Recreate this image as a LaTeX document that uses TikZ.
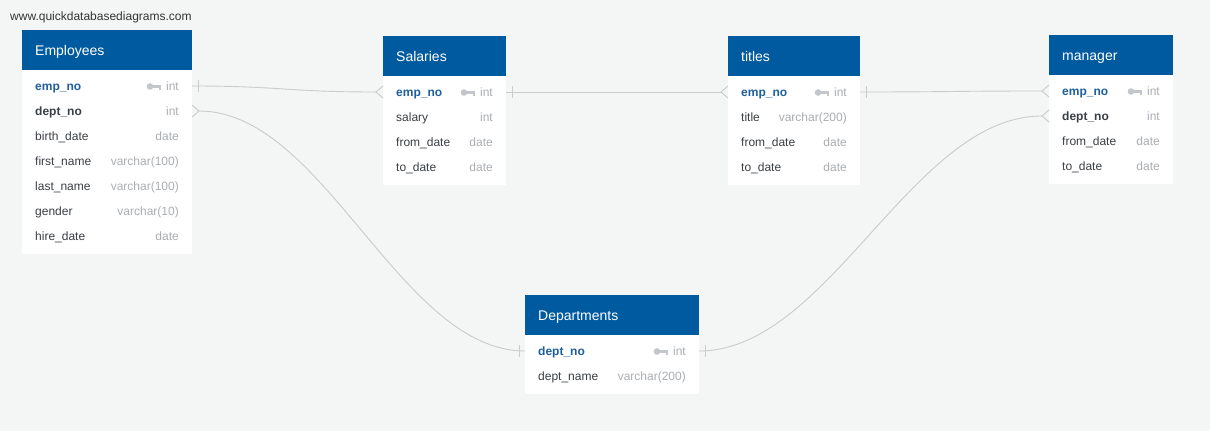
\documentclass[tikz,border=0pt]{standalone}
\usepackage{fontspec}
\setmainfont{Liberation Sans}

\definecolor{bgcol}{HTML}{F4F6F5}
\definecolor{headcol}{HTML}{005A9F}
\definecolor{keytext}{HTML}{1E5F9C}
\definecolor{nametext}{HTML}{3A3F44}
\definecolor{typetext}{HTML}{AAAEB2}
\definecolor{keycol}{HTML}{C3C7CB}
\definecolor{relcol}{HTML}{C9CBCC}

\begin{document}
\begin{tikzpicture}[
  x = 1pt, y = -1pt,
  tblhead/.style = {
    anchor = north west,
    fill = headcol,
    minimum height = 40pt,
    inner sep = 0pt,
  },
  tblbody/.style = {
    anchor = north west,
    fill = white,
    inner sep = 0pt,
  },
  tbltitle/.style = {
    anchor = base west,
    inner sep = 0pt,
    text = white,
    font = \fontsize{14pt}{16pt}\selectfont,
  },
  fname/.style = {
    anchor = base west,
    inner sep = 0pt,
    text = nametext,
    font = \fontsize{12pt}{14pt}\selectfont,
  },
  fbold/.style = { fname, font = \fontsize{12pt}{14pt}\selectfont\bfseries },
  fkey/.style = { fbold, text = keytext },
  ftype/.style = { fname, anchor = base east, text = typetext },
  keyicon/.pic = {
    \fill[keycol] (0, 0) circle (3.3);
    \fill[keycol] (2, -1.6) rectangle (11, 1);
    \fill[keycol] (8.5, 1) rectangle (11, 3);
  }
]
  \path[use as bounding box, fill = bgcol] (0, 0) rectangle (1210, 431);

  \node[fname, text = black!80] (site) at (10, 20.5) {www.quickdatabasediagrams.com};

  % Employees
  \node[tblhead, minimum width = 170pt] (emp) at (22, 30) {};
  \node[tbltitle] (emp-title) at (35, 55) {Employees};
  \node[tblbody, minimum width = 170pt, minimum height = 184pt] (emp-body) at (22, 70) {};
  \node[fkey] (emp-empno) at (35, 90.5) {emp\_no};
  \node[ftype] (emp-empno-t) at (179, 90.5) {int};
  \pic at (150, 86.5) {keyicon};
  \node[fbold] (emp-deptno) at (35, 115.5) {dept\_no};
  \node[ftype] (emp-deptno-t) at (179, 115.5) {int};
  \node[fname] (emp-birth) at (35, 140.5) {birth\_date};
  \node[ftype] (emp-birth-t) at (179, 140.5) {date};
  \node[fname] (emp-first) at (35, 165.5) {first\_name};
  \node[ftype] (emp-first-t) at (179, 165.5) {varchar(100)};
  \node[fname] (emp-last) at (35, 190.5) {last\_name};
  \node[ftype] (emp-last-t) at (179, 190.5) {varchar(100)};
  \node[fname] (emp-gender) at (35, 215.5) {gender};
  \node[ftype] (emp-gender-t) at (179, 215.5) {varchar(10)};
  \node[fname] (emp-hire) at (35, 240.5) {hire\_date};
  \node[ftype] (emp-hire-t) at (179, 240.5) {date};

  % Salaries
  \node[tblhead, minimum width = 123pt] (sal) at (383, 36) {};
  \node[tbltitle] (sal-title) at (396, 61) {Salaries};
  \node[tblbody, minimum width = 123pt, minimum height = 109pt] (sal-body) at (383, 76) {};
  \node[fkey] (sal-empno) at (396, 96.5) {emp\_no};
  \node[ftype] (sal-empno-t) at (493, 96.5) {int};
  \pic at (464, 92.5) {keyicon};
  \node[fname] (sal-salary) at (396, 121.5) {salary};
  \node[ftype] (sal-salary-t) at (493, 121.5) {int};
  \node[fname] (sal-from) at (396, 146.5) {from\_date};
  \node[ftype] (sal-from-t) at (493, 146.5) {date};
  \node[fname] (sal-to) at (396, 171.5) {to\_date};
  \node[ftype] (sal-to-t) at (493, 171.5) {date};

  % titles
  \node[tblhead, minimum width = 132pt] (tit) at (728, 36) {};
  \node[tbltitle] (tit-title) at (741, 61) {titles};
  \node[tblbody, minimum width = 132pt, minimum height = 109pt] (tit-body) at (728, 76) {};
  \node[fkey] (tit-empno) at (741, 96.5) {emp\_no};
  \node[ftype] (tit-empno-t) at (847, 96.5) {int};
  \pic at (818, 92.5) {keyicon};
  \node[fname] (tit-title-f) at (741, 121.5) {title};
  \node[ftype] (tit-title-t) at (847, 121.5) {varchar(200)};
  \node[fname] (tit-from) at (741, 146.5) {from\_date};
  \node[ftype] (tit-from-t) at (847, 146.5) {date};
  \node[fname] (tit-to) at (741, 171.5) {to\_date};
  \node[ftype] (tit-to-t) at (847, 171.5) {date};

  % manager
  \node[tblhead, minimum width = 124pt] (man) at (1049, 35) {};
  \node[tbltitle] (man-title) at (1062, 60) {manager};
  \node[tblbody, minimum width = 124pt, minimum height = 109pt] (man-body) at (1049, 75) {};
  \node[fkey] (man-empno) at (1062, 95.5) {emp\_no};
  \node[ftype] (man-empno-t) at (1160, 95.5) {int};
  \pic at (1131, 91.5) {keyicon};
  \node[fbold] (man-deptno) at (1062, 120.5) {dept\_no};
  \node[ftype] (man-deptno-t) at (1160, 120.5) {int};
  \node[fname] (man-from) at (1062, 145.5) {from\_date};
  \node[ftype] (man-from-t) at (1160, 145.5) {date};
  \node[fname] (man-to) at (1062, 170.5) {to\_date};
  \node[ftype] (man-to-t) at (1160, 170.5) {date};

  % Departments
  \node[tblhead, minimum width = 174pt] (dep) at (525, 295) {};
  \node[tbltitle] (dep-title) at (538, 320) {Departments};
  \node[tblbody, minimum width = 174pt, minimum height = 59pt] (dep-body) at (525, 335) {};
  \node[fkey] (dep-deptno) at (538, 355.5) {dept\_no};
  \node[ftype] (dep-deptno-t) at (686, 355.5) {int};
  \pic at (657, 351.5) {keyicon};
  \node[fname] (dep-name) at (538, 380.5) {dept\_name};
  \node[ftype] (dep-name-t) at (686, 380.5) {varchar(200)};

  % ports
  \coordinate (emp-p1) at (192, 86);
  \coordinate (emp-p2) at (192, 111);
  \coordinate (sal-p1) at (383, 92);
  \coordinate (sal-p2) at (506, 92);
  \coordinate (tit-p1) at (728, 92);
  \coordinate (tit-p2) at (860, 92);
  \coordinate (man-p1) at (1049, 91);
  \coordinate (man-p2) at (1049, 116);
  \coordinate (dep-p1) at (525, 351);
  \coordinate (dep-p2) at (699, 351);

  \begin{scope}[
    every path/.style = { draw = relcol, line width = 0.9pt }
  ]
    \draw (emp-p1) .. controls +(90, 0) and +(-90, 0) .. ([xshift = -7pt]sal-p1);
    \draw (emp-p1) ++(6, -6) -- ++(0, 12);
    \draw (sal-p1) ++(0, -6) -- ++(-7, 6) -- ++(7, 6);

    \draw (sal-p2) -- ([xshift = -7pt]tit-p1);
    \draw (sal-p2) ++(6, -6) -- ++(0, 12);
    \draw (tit-p1) ++(0, -6) -- ++(-7, 6) -- ++(7, 6);

    \draw (tit-p2) .. controls +(90, 0) and +(-90, 0) .. ([xshift = -7pt]man-p1);
    \draw (tit-p2) ++(6, -6) -- ++(0, 12);
    \draw (man-p1) ++(0, -6) -- ++(-7, 6) -- ++(7, 6);

    \draw ([xshift = 7pt]emp-p2) .. controls +(125, 0) and +(-125, 0) .. (dep-p1);
    \draw (emp-p2) ++(0, -6) -- ++(7, 6) -- ++(-7, 6);
    \draw (dep-p1) ++(-6, -6) -- ++(0, 12);

    \draw (dep-p2) .. controls +(130, 0) and +(-130, 0) .. ([xshift = -7pt]man-p2);
    \draw (dep-p2) ++(6, -6) -- ++(0, 12);
    \draw (man-p2) ++(0, -6) -- ++(-7, 6) -- ++(7, 6);
  \end{scope}
\end{tikzpicture}
\end{document}
